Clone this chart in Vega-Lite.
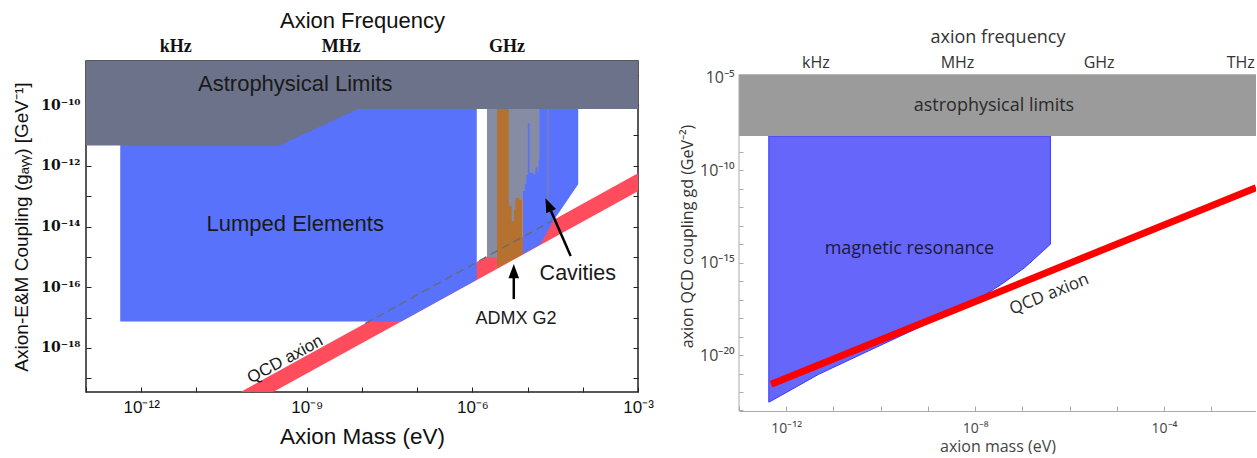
{
  "$schema": "https://vega.github.io/schema/vega-lite/v6.json",
  "background": "white",
  "padding": {"left": 12, "top": 8, "right": 0, "bottom": 0},
  "bounds": "flush",
  "spacing": 101,
  "config": {"view": {"stroke": null}, "axis": {"grid": false}},
  "hconcat": [
    {
      "width": 552,
      "height": 331,
      "view": {"stroke": "#222", "strokeWidth": 1.5},
      "resolve": {"axis": {"x": "independent", "y": "independent"}},
      "layer": [
        {
          "data": {"values": [
            {"m": 5.62e-11, "g": 8.13e-21, "g2": 3.16e-20},
            {"m": 1e-3, "g": 1.445e-13, "g2": 5.62e-13}
          ]},
          "mark": {"type": "area", "orient": "vertical", "color": "#ff4d5e", "clip": true},
          "encoding": {
            "x": {"field": "m", "type": "quantitative", "scale": {"type": "log", "domain": [1e-13, 1e-3], "nice": false}, "axis": null},
            "y": {"field": "g", "type": "quantitative", "stack": null, "scale": {"type": "log", "domain": [3.55e-20, 2.82e-9], "nice": false}, "axis": null},
            "y2": {"field": "g2"}
          }
        },
        {
          "data": {"values": [
            {"m": 4.17e-13, "g": 7.41e-18, "g2": 7.41e-11},
            {"m": 5.13e-8, "g": 7.41e-18, "g2": 7.41e-11},
            {"m": 1.2e-6, "g": 1.78e-16, "g2": 7.41e-11}
          ]},
          "mark": {"type": "area", "orient": "vertical", "color": "#5872fc"},
          "encoding": {
            "x": {"field": "m", "type": "quantitative", "scale": {"type": "log", "domain": [1e-13, 1e-3], "nice": false}, "axis": null},
            "y": {"field": "g", "type": "quantitative", "stack": null, "scale": {"type": "log", "domain": [3.55e-20, 2.82e-9], "nice": false}, "axis": null},
            "y2": {"field": "g2"}
          }
        },
        {
          "data": {"values": [
            {"m": 1e-13, "g": 4.68e-12, "g2": 2.82e-9},
            {"m": 3.16e-10, "g": 4.68e-12, "g2": 2.82e-9},
            {"m": 8.51e-9, "g": 7.41e-11, "g2": 2.82e-9},
            {"m": 1e-3, "g": 7.41e-11, "g2": 2.82e-9}
          ]},
          "mark": {"type": "area", "orient": "vertical", "color": "#6b7289"},
          "encoding": {
            "x": {"field": "m", "type": "quantitative", "scale": {"type": "log", "domain": [1e-13, 1e-3], "nice": false},
              "axis": {"orient": "bottom", "values": [1e-13, 1e-12, 1e-11, 1e-10, 1e-9, 1e-8, 1e-7, 1e-6, 1e-5, 1e-4, 1e-3],
                "labelExpr": "round(log(datum.value)/LN10)==-12?'10⁻¹²':round(log(datum.value)/LN10)==-9?'10⁻⁹':round(log(datum.value)/LN10)==-6?'10⁻⁶':round(log(datum.value)/LN10)==-3?'10⁻³':''",
                "tickSize": -5, "tickColor": "#222", "domain": false, "labelOverlap": false, "labelFlush": false,
                "labelFont": "Liberation Sans", "labelFontSize": 17, "labelColor": "#111", "labelPadding": 12,
                "title": "Axion Mass (eV)", "titleFont": "Liberation Sans", "titleFontSize": 22.5, "titleFontWeight": "normal", "titleColor": "#111", "titlePadding": 10}},
            "y": {"field": "g", "type": "quantitative", "stack": null, "scale": {"type": "log", "domain": [3.55e-20, 2.82e-9], "nice": false},
              "axis": {"orient": "left", "values": [1e-19, 1e-18, 1e-17, 1e-16, 1e-15, 1e-14, 1e-13, 1e-12, 1e-11, 1e-10, 1e-9],
                "labelExpr": "round(log(datum.value)/LN10)==-10?'10⁻¹⁰':round(log(datum.value)/LN10)==-12?'10⁻¹²':round(log(datum.value)/LN10)==-14?'10⁻¹⁴':round(log(datum.value)/LN10)==-16?'10⁻¹⁶':round(log(datum.value)/LN10)==-18?'10⁻¹⁸':''",
                "tickSize": -5, "tickColor": "#222", "domain": false, "labelOverlap": false,
                "labelFont": "DejaVu Serif", "labelFontSize": 14, "labelFontWeight": "bold", "labelColor": "#111", "labelPadding": 11,
                "title": "Axion-E&M Coupling   (gₐᵧᵧ)   [GeV⁻¹]", "titleFont": "Liberation Sans", "titleFontSize": 19, "titleFontWeight": "normal", "titleColor": "#111", "titlePadding": 9}},
            "y2": {"field": "g2"}
          }
        },
        {
          "data": {"values": [
            {"m": 8.18e-6, "g": 1.23e-15, "g2": 7.41e-11},
            {"m": 1.7e-5, "g": 2.57e-15, "g2": 7.41e-11},
            {"m": 2.95e-5, "g": 1.585e-14, "g2": 7.41e-11},
            {"m": 8.26e-5, "g": 2.45e-13, "g2": 7.41e-11}
          ]},
          "mark": {"type": "area", "orient": "vertical", "color": "#5872fc"},
          "encoding": {
            "x": {"field": "m", "type": "quantitative", "scale": {"type": "log", "domain": [1e-13, 1e-3], "nice": false}, "axis": null},
            "y": {"field": "g", "type": "quantitative", "stack": null, "scale": {"type": "log", "domain": [3.55e-20, 2.82e-9], "nice": false}, "axis": null},
            "y2": {"field": "g2"}
          }
        },
        {
          "data": {"values": [
            {"m": 1.84e-6, "m2": 3.72e-6, "g": 9.55e-16, "g2": 7.41e-11}
          ]},
          "mark": {"type": "rect", "color": "#868ca4"},
          "encoding": {
            "x": {"field": "m", "type": "quantitative", "scale": {"type": "log", "domain": [1e-13, 1e-3], "nice": false}, "axis": null},
            "x2": {"field": "m2"},
            "y": {"field": "g", "type": "quantitative", "scale": {"type": "log", "domain": [3.55e-20, 2.82e-9], "nice": false}, "axis": null},
            "y2": {"field": "g2"}
          }
        },
        {
          "data": {"values": [
            {"m": 2.8e-6, "g": 4.27e-16, "g2": 7.41e-11},
            {"m": 8.18e-6, "g": 1.23e-15, "g2": 7.41e-11}
          ]},
          "mark": {"type": "area", "orient": "vertical", "color": "#b5712f"},
          "encoding": {
            "x": {"field": "m", "type": "quantitative", "scale": {"type": "log", "domain": [1e-13, 1e-3], "nice": false}, "axis": null},
            "y": {"field": "g", "type": "quantitative", "stack": null, "scale": {"type": "log", "domain": [3.55e-20, 2.82e-9], "nice": false}, "axis": null},
            "y2": {"field": "g2"}
          }
        },
        {
          "data": {"values": [
            {"m": 4.56e-6, "g": 4.79e-14, "g2": 7.41e-11},
            {"m": 5.13e-6, "g": 1.51e-14, "g2": 7.41e-11},
            {"m": 5.69e-6, "g": 3.72e-14, "g2": 7.41e-11},
            {"m": 6.03e-6, "g": 8.91e-14, "g2": 7.41e-11},
            {"m": 7.08e-6, "g": 7.59e-14, "g2": 7.41e-11},
            {"m": 8.18e-6, "g": 1.48e-13, "g2": 7.41e-11},
            {"m": 8.91e-6, "g": 2.45e-13, "g2": 7.41e-11},
            {"m": 9.55e-6, "g": 5.01e-13, "g2": 7.41e-11},
            {"m": 1.01e-5, "g": 2.51e-11, "g2": 7.41e-11},
            {"m": 1.084e-5, "g": 5.89e-13, "g2": 7.41e-11},
            {"m": 1.259e-5, "g": 5.25e-13, "g2": 7.41e-11},
            {"m": 1.38e-5, "g": 8.71e-13, "g2": 7.41e-11},
            {"m": 1.51e-5, "g": 6.31e-13, "g2": 7.41e-11},
            {"m": 1.585e-5, "g": 1.62e-12, "g2": 7.41e-11},
            {"m": 1.644e-5, "g": 1.62e-12, "g2": 7.41e-11}
          ]},
          "mark": {"type": "area", "orient": "vertical", "interpolate": "step-after", "color": "#868ca4"},
          "encoding": {
            "x": {"field": "m", "type": "quantitative", "scale": {"type": "log", "domain": [1e-13, 1e-3], "nice": false}, "axis": null},
            "y": {"field": "g", "type": "quantitative", "stack": null, "scale": {"type": "log", "domain": [3.55e-20, 2.82e-9], "nice": false}, "axis": null},
            "y2": {"field": "g2"}
          }
        },
        {
          "data": {"values": [{"m": 2.34e-5, "g": 1.95e-14, "g2": 7.41e-11}]},
          "mark": {"type": "rule", "color": "#7d849c", "strokeWidth": 1.2},
          "encoding": {
            "x": {"field": "m", "type": "quantitative", "scale": {"type": "log", "domain": [1e-13, 1e-3], "nice": false}, "axis": null},
            "y": {"field": "g", "type": "quantitative", "scale": {"type": "log", "domain": [3.55e-20, 2.82e-9], "nice": false}, "axis": null},
            "y2": {"field": "g2"}
          }
        },
        {
          "data": {"values": [
            {"m": 1.148e-8, "g": 6.46e-18},
            {"m": 2.79e-5, "g": 1.55e-14}
          ]},
          "mark": {"type": "line", "color": "#6a6a6a", "strokeWidth": 1.3, "strokeDash": [8, 5]},
          "encoding": {
            "x": {"field": "m", "type": "quantitative", "scale": {"type": "log", "domain": [1e-13, 1e-3], "nice": false}, "axis": null},
            "y": {"field": "g", "type": "quantitative", "scale": {"type": "log", "domain": [3.55e-20, 2.82e-9], "nice": false}, "axis": null}
          }
        },
        {
          "data": {"values": [
            {"m": 6.03e-5, "g": 1.07e-15, "m2": 2.37e-5, "g2": 5.25e-14},
            {"m": 5.62e-6, "g": 4.07e-17, "m2": 5.62e-6, "g2": 3.39e-16}
          ]},
          "mark": {"type": "rule", "color": "black", "strokeWidth": 2.5},
          "encoding": {
            "x": {"field": "m", "type": "quantitative", "scale": {"type": "log", "domain": [1e-13, 1e-3], "nice": false}, "axis": null},
            "y": {"field": "g", "type": "quantitative", "scale": {"type": "log", "domain": [3.55e-20, 2.82e-9], "nice": false}, "axis": null},
            "x2": {"field": "m2"},
            "y2": {"field": "g2"}
          }
        },
        {
          "data": {"values": [{"m": 2.37e-5, "g": 5.25e-14}]},
          "mark": {"type": "point", "shape": "M0,-1L0.75,1L-0.75,1Z", "filled": true, "size": 200, "color": "black", "opacity": 1, "angle": -23.4},
          "encoding": {
            "x": {"field": "m", "type": "quantitative", "scale": {"type": "log", "domain": [1e-13, 1e-3], "nice": false}, "axis": null},
            "y": {"field": "g", "type": "quantitative", "scale": {"type": "log", "domain": [3.55e-20, 2.82e-9], "nice": false}, "axis": null}
          }
        },
        {
          "data": {"values": [{"m": 5.62e-6, "g": 3.39e-16}]},
          "mark": {"type": "point", "shape": "M0,-1L0.75,1L-0.75,1Z", "filled": true, "size": 200, "color": "black", "opacity": 1},
          "encoding": {
            "x": {"field": "m", "type": "quantitative", "scale": {"type": "log", "domain": [1e-13, 1e-3], "nice": false}, "axis": null},
            "y": {"field": "g", "type": "quantitative", "scale": {"type": "log", "domain": [3.55e-20, 2.82e-9], "nice": false}, "axis": null}
          }
        },
        {
          "data": {"values": [
            {"m": 6.17e-10, "g": 4.9e-10, "label": "Astrophysical Limits"},
            {"m": 6.17e-10, "g": 1.23e-14, "label": "Lumped Elements"}
          ]},
          "mark": {"type": "text", "font": "Liberation Sans", "fontSize": 22, "color": "#1a1a1a", "align": "center", "baseline": "middle"},
          "encoding": {
            "x": {"field": "m", "type": "quantitative", "scale": {"type": "log", "domain": [1e-13, 1e-3], "nice": false}, "axis": null},
            "y": {"field": "g", "type": "quantitative", "scale": {"type": "log", "domain": [3.55e-20, 2.82e-9], "nice": false}, "axis": null},
            "text": {"field": "label"}
          }
        },
        {
          "data": {"values": [{"m": 8.13e-5, "g": 2.69e-16, "label": "Cavities"}]},
          "mark": {"type": "text", "font": "Liberation Sans", "fontSize": 21.5, "color": "#1a1a1a", "align": "center", "baseline": "middle"},
          "encoding": {
            "x": {"field": "m", "type": "quantitative", "scale": {"type": "log", "domain": [1e-13, 1e-3], "nice": false}, "axis": null},
            "y": {"field": "g", "type": "quantitative", "scale": {"type": "log", "domain": [3.55e-20, 2.82e-9], "nice": false}, "axis": null},
            "text": {"field": "label"}
          }
        },
        {
          "data": {"values": [{"m": 6.17e-6, "g": 8.71e-18, "label": "ADMX G2"}]},
          "mark": {"type": "text", "font": "Liberation Sans", "fontSize": 18, "color": "#1a1a1a", "align": "center", "baseline": "middle"},
          "encoding": {
            "x": {"field": "m", "type": "quantitative", "scale": {"type": "log", "domain": [1e-13, 1e-3], "nice": false}, "axis": null},
            "y": {"field": "g", "type": "quantitative", "scale": {"type": "log", "domain": [3.55e-20, 2.82e-9], "nice": false}, "axis": null},
            "text": {"field": "label"}
          }
        },
        {
          "data": {"values": [{"m": 4.07e-10, "g": 4.17e-19, "label": "QCD axion"}]},
          "mark": {"type": "text", "font": "Liberation Sans", "fontSize": 17, "color": "#1a1a1a", "align": "center", "baseline": "middle", "angle": -28.5},
          "encoding": {
            "x": {"field": "m", "type": "quantitative", "scale": {"type": "log", "domain": [1e-13, 1e-3], "nice": false}, "axis": null},
            "y": {"field": "g", "type": "quantitative", "scale": {"type": "log", "domain": [3.55e-20, 2.82e-9], "nice": false}, "axis": null},
            "text": {"field": "label"}
          }
        },
        {
          "data": {"values": [{"m": 1e-8, "g": 1e-14}]},
          "mark": {"type": "point", "opacity": 0},
          "encoding": {
            "x": {"field": "m", "type": "quantitative", "scale": {"type": "log", "domain": [1e-13, 1e-3], "nice": false},
              "axis": {"orient": "top", "values": [4.14e-13, 4.14e-12, 4.14e-11, 4.14e-10, 4.14e-9, 4.14e-8, 4.14e-7, 4.14e-6, 4.14e-5, 4.14e-4],
                "labelExpr": "round(log(datum.value/4.14e-12)/LN10)==0?'kHz':round(log(datum.value/4.14e-12)/LN10)==3?'MHz':round(log(datum.value/4.14e-12)/LN10)==6?'GHz':''",
                "tickSize": -5, "tickColor": "#222", "domain": false, "labelOverlap": false, "labelFlush": false,
                "labelFont": "Liberation Serif", "labelFontSize": 18, "labelFontWeight": "bold", "labelColor": "#111", "labelPadding": 11,
                "title": "Axion Frequency", "titleFont": "Liberation Sans", "titleFontSize": 22, "titleFontWeight": "normal", "titleColor": "#111", "titlePadding": 5}},
            "y": {"field": "g", "type": "quantitative", "scale": {"type": "log", "domain": [3.55e-20, 2.82e-9], "nice": false},
              "axis": {"orient": "right", "values": [1e-19, 1e-18, 1e-17, 1e-16, 1e-15, 1e-14, 1e-13, 1e-12, 1e-11, 1e-10, 1e-9],
                "labels": false, "tickSize": -5, "tickColor": "#222", "domain": false, "title": null}}
          }
        }
      ]
    },
    {
      "width": 517,
      "height": 350,
      "resolve": {"axis": {"x": "independent", "y": "independent"}},
      "layer": [
        {
          "data": {"values": [
            {"m": 4.27e-13, "g": 2.82e-23, "g2": 7.24e-9},
            {"m": 4.79e-13, "g": 3.24e-23, "g2": 7.24e-9},
            {"m": 4.9e-12, "g": 9.12e-22, "g2": 7.24e-9},
            {"m": 5.5e-11, "g": 1.66e-20, "g2": 7.24e-9},
            {"m": 8.91e-10, "g": 4.57e-19, "g2": 7.24e-9},
            {"m": 1e-8, "g": 8.51e-18, "g2": 7.24e-9},
            {"m": 3.63e-8, "g": 6.76e-17, "g2": 7.24e-9},
            {"m": 1.12e-7, "g": 5.37e-16, "g2": 7.24e-9},
            {"m": 3.94e-7, "g": 1e-14, "g2": 7.24e-9}
          ]},
          "mark": {"type": "area", "orient": "vertical", "color": "#6666fb", "stroke": "#3a3aff", "strokeWidth": 1},
          "encoding": {
            "x": {"field": "m", "type": "quantitative", "scale": {"type": "log", "domain": [1e-13, 8.91e-3], "nice": false}, "axis": null},
            "y": {"field": "g", "type": "quantitative", "stack": null, "scale": {"type": "log", "domain": [9.33e-24, 8.32e-5], "nice": false}, "axis": null},
            "y2": {"field": "g2"}
          }
        },
        {
          "data": {"values": [{"m": 1e-13, "m2": 8.91e-3, "g": 7.24e-9, "g2": 1.55e-5}]},
          "mark": {"type": "rect", "color": "#9b9b9b"},
          "encoding": {
            "x": {"field": "m", "type": "quantitative", "scale": {"type": "log", "domain": [1e-13, 8.91e-3], "nice": false},
              "axis": {"orient": "bottom", "values": [1e-13, 1e-12, 1e-11, 1e-10, 1e-9, 1e-8, 1e-7, 1e-6, 1e-5, 1e-4, 1e-3],
                "labelExpr": "round(log(datum.value)/LN10)==-12?'10⁻¹²':round(log(datum.value)/LN10)==-8?'10⁻⁸':round(log(datum.value)/LN10)==-4?'10⁻⁴':''",
                "tickSize": -5, "tickColor": "#aaa", "domainColor": "#aaa", "labelOverlap": false, "labelFlush": false,
                "labelFont": "Open Sans", "labelFontSize": 14, "labelColor": "#444", "labelPadding": 15,
                "title": "axion mass (eV)", "titleFont": "Open Sans", "titleFontSize": 16, "titleFontWeight": "normal", "titleColor": "#444", "titlePadding": 3}},
            "x2": {"field": "m2"},
            "y": {"field": "g", "type": "quantitative", "scale": {"type": "log", "domain": [9.33e-24, 8.32e-5], "nice": false},
              "axis": {"orient": "left", "values": [1e-23, 1e-22, 1e-21, 1e-20, 1e-19, 1e-18, 1e-17, 1e-16, 1e-15, 1e-14, 1e-13, 1e-12, 1e-11, 1e-10, 1e-9, 1e-8, 1e-7, 1e-6, 1e-5],
                "labelExpr": "round(log(datum.value)/LN10)==-5?'10⁻⁵':round(log(datum.value)/LN10)==-10?'10⁻¹⁰':round(log(datum.value)/LN10)==-15?'10⁻¹⁵':round(log(datum.value)/LN10)==-20?'10⁻²⁰':''",
                "tickSize": -4, "tickColor": "#aaa", "domain": false, "labelOverlap": false,
                "labelFont": "Open Sans", "labelFontSize": 16, "labelColor": "#444", "labelPadding": 9,
                "title": "axion QCD coupling gd (GeV⁻²)", "titleFont": "Open Sans", "titleFontSize": 16, "titleFontWeight": "normal", "titleColor": "#333", "titlePadding": 4}},
            "y2": {"field": "g2"}
          }
        },
        {
          "data": {"values": [
            {"m": 4.79e-13, "g": 2.63e-22},
            {"m": 8.91e-3, "g": 1.15e-11}
          ]},
          "mark": {"type": "line", "color": "#ff0000", "strokeWidth": 7, "strokeCap": "butt", "clip": true},
          "encoding": {
            "x": {"field": "m", "type": "quantitative", "scale": {"type": "log", "domain": [1e-13, 8.91e-3], "nice": false}, "axis": null},
            "y": {"field": "g", "type": "quantitative", "scale": {"type": "log", "domain": [9.33e-24, 8.32e-5], "nice": false}, "axis": null}
          }
        },
        {
          "data": {"values": [{"m": 1e-13, "g": 9.33e-24, "g2": 1.55e-5}]},
          "mark": {"type": "rule", "color": "#aaa", "strokeWidth": 1},
          "encoding": {
            "x": {"field": "m", "type": "quantitative", "scale": {"type": "log", "domain": [1e-13, 8.91e-3], "nice": false}, "axis": null},
            "y": {"field": "g", "type": "quantitative", "scale": {"type": "log", "domain": [9.33e-24, 8.32e-5], "nice": false}, "axis": null},
            "y2": {"field": "g2"}
          }
        },
        {
          "data": {"values": [{"m": 2.51e-8, "g": 3.02e-7, "label": "astrophysical limits"}]},
          "mark": {"type": "text", "font": "Open Sans", "fontSize": 18, "color": "#2a2a2a", "align": "center", "baseline": "middle"},
          "encoding": {
            "x": {"field": "m", "type": "quantitative", "scale": {"type": "log", "domain": [1e-13, 8.91e-3], "nice": false}, "axis": null},
            "y": {"field": "g", "type": "quantitative", "scale": {"type": "log", "domain": [9.33e-24, 8.32e-5], "nice": false}, "axis": null},
            "text": {"field": "label"}
          }
        },
        {
          "data": {"values": [{"m": 4.07e-10, "g": 5.37e-15, "label": "magnetic resonance"}]},
          "mark": {"type": "text", "font": "Open Sans", "fontSize": 18, "color": "#1a1a3a", "align": "center", "baseline": "middle"},
          "encoding": {
            "x": {"field": "m", "type": "quantitative", "scale": {"type": "log", "domain": [1e-13, 8.91e-3], "nice": false}, "axis": null},
            "y": {"field": "g", "type": "quantitative", "scale": {"type": "log", "domain": [9.33e-24, 8.32e-5], "nice": false}, "axis": null},
            "text": {"field": "label"}
          }
        },
        {
          "data": {"values": [{"m": 3.72e-7, "g": 1.95e-17, "label": "QCD axion"}]},
          "mark": {"type": "text", "font": "Open Sans", "fontSize": 17, "color": "#2a2a2a", "align": "center", "baseline": "middle", "angle": -22},
          "encoding": {
            "x": {"field": "m", "type": "quantitative", "scale": {"type": "log", "domain": [1e-13, 8.91e-3], "nice": false}, "axis": null},
            "y": {"field": "g", "type": "quantitative", "scale": {"type": "log", "domain": [9.33e-24, 8.32e-5], "nice": false}, "axis": null},
            "text": {"field": "label"}
          }
        },
        {
          "data": {"values": [{"m": 1e-8, "g": 1e-14}]},
          "mark": {"type": "point", "opacity": 0},
          "encoding": {
            "x": {"field": "m", "type": "quantitative", "scale": {"type": "log", "domain": [1e-13, 8.91e-3], "nice": false},
              "axis": {"orient": "top", "offset": -13.5, "values": [4.14e-13, 4.14e-12, 4.14e-11, 4.14e-10, 4.14e-9, 4.14e-8, 4.14e-7, 4.14e-6, 4.14e-5, 4.14e-4, 4.14e-3],
                "labelExpr": "round(log(datum.value/4.14e-12)/LN10)==0?'kHz':round(log(datum.value/4.14e-12)/LN10)==3?'MHz':round(log(datum.value/4.14e-12)/LN10)==6?'GHz':round(log(datum.value/4.14e-12)/LN10)==9?'THz':''",
                "tickSize": -4, "tickColor": "#aaa", "domainColor": "#aaa", "labelOverlap": false, "labelFlush": false,
                "labelFont": "Open Sans", "labelFontSize": 16, "labelColor": "#333", "labelPadding": 8,
                "title": "axion frequency", "titleFont": "Open Sans", "titleFontSize": 18, "titleFontWeight": "normal", "titleColor": "#333", "titlePadding": 8}},
            "y": {"field": "g", "type": "quantitative", "scale": {"type": "log", "domain": [9.33e-24, 8.32e-5], "nice": false}, "axis": null}
          }
        }
      ]
    }
  ]
}
